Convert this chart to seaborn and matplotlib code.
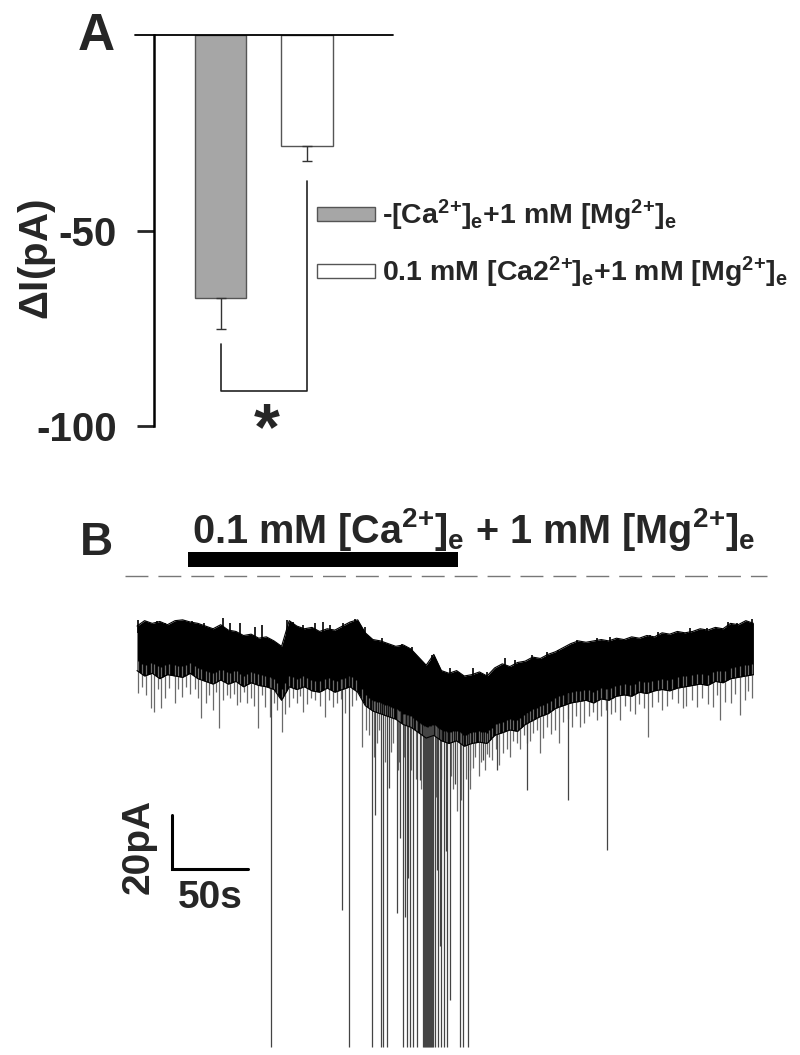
import numpy as np
import matplotlib
matplotlib.use("Agg")
import matplotlib.pyplot as plt
import seaborn as sns
from matplotlib.patches import Rectangle

sns.set_style("white")
plt.rcParams['font.family'] = ['Liberation Sans', 'DejaVu Sans']
plt.rcParams['font.weight'] = 'bold'
plt.rcParams['mathtext.fontset'] = 'custom'
plt.rcParams['mathtext.bf'] = 'Liberation Sans:bold'
plt.rcParams['mathtext.rm'] = 'Liberation Sans:bold'
plt.rcParams['mathtext.default'] = 'bf'

# panel A data
conditions = [r'-[Ca$^{2\!+}\!$]$_{e}$+1 mM [Mg$^{2\!+}\!$]$_{e}$',
              r'0.1 mM [Ca2$^{2\!+}\!$]$_{e}$+1 mM [Mg$^{2\!+}\!$]$_{e}$']
delta_I = [-67.3, -28.4]
sem = [7.9, 3.8]
bar_colors = ['#a6a6a6', 'white']
bracket_y = [-79.0, -91.0, -91.0, -37.3]

# panel B data, time in s, current in pA (relative)
env_t = np.arange(0, 410, 5)
env_up = [-1.5, 0.5, -0.5, 0.2, -1.0, 0.5, 0.8, 0.0, -0.5, -1.5,
          -2.5, -1.0, -3.0, -3.5, -5.0, -4.5, -6.0, -5.5, -7.0, -9.0,
          0.5, -1.5, -2.5, -2.0, -3.5, -2.5, -3.0, -1.5, 0.0, 0.8,
          -4.0, -6.5, -7.0, -8.0, -9.0, -8.5, -10.0, -13.0, -16.0, -12.0,
          -18.0, -19.0, -18.0, -20.0, -19.5, -18.5, -20.0, -17.0, -15.5, -16.5,
          -15.0, -14.5, -13.0, -13.5, -12.0, -11.0, -9.5, -8.0, -7.0, -7.5,
          -7.0, -6.5, -7.0, -6.0, -6.5, -5.5, -6.0, -5.0, -5.5, -4.0,
          -4.5, -3.5, -4.0, -3.5, -2.5, -3.0, -2.0, -2.5, -0.5, -1.0,
          0.5, -0.5]
env_lo = [-18.0, -20.0, -19.0, -21.0, -19.5, -20.0, -20.5, -19.0, -21.0, -22.0,
          -23.0, -21.5, -23.0, -22.0, -24.0, -22.5, -23.5, -24.0, -25.0, -29.0,
          -24.0, -25.0, -24.0, -25.5, -26.0, -24.5, -26.0, -25.0, -24.0, -26.0,
          -31.0, -33.0, -34.0, -35.0, -36.0, -38.0, -39.0, -41.0, -43.0, -42.0,
          -44.0, -45.0, -44.0, -46.0, -45.0, -44.5, -45.0, -42.0, -41.0, -40.0,
          -40.5, -38.0, -36.5, -35.0, -34.0, -32.0, -31.0, -30.0, -29.5, -29.0,
          -30.0, -28.5, -29.0, -27.5, -27.0, -27.5, -26.0, -26.5, -25.5, -25.0,
          -25.5, -24.5, -24.0, -23.5, -23.0, -23.5, -22.0, -22.5, -21.0, -20.5,
          -20.0, -19.5]

# small upward peaks on top of the band
peak_t = [0.9, 5.3, 12.9, 18.4, 30.4, 35.9, 44.0, 56.3, 61.1, 67.7,
          77.5, 81.9, 98.4, 102.7, 109.3, 117.0, 122.4, 126.8, 135.5, 143.2,
          149.8, 160.8, 173.9, 180.5, 193.6, 198.0, 205.6, 221.0, 229.8, 241.8,
          248.4, 259.3, 269.2, 276.8, 288.9, 302.0, 310.8, 337.0, 342.5, 363.3,
          374.3, 388.5, 394.0, 403.9]
peak_I = [0.7, 0.1, 0.5, -0.5, 0.1, 0.5, -0.5, 1.4, -0.5, -0.2,
          -1.7, -1.1, 0.7, 0.1, -1.1, -0.2, 0.1, -1.1, -0.5, 1.0,
          -1.7, -6.0, -8.1, -9.1, -12.2, -15.9, -17.2, -17.2, -18.4, -13.5,
          -14.1, -12.2, -11.0, -10.4, -6.7, -6.0, -5.7, -4.8, -3.6, -2.3,
          -2.3, 0.1, -0.5, 1.0]

# short downward events under the band
tail_t = [0.7, 3.5, 6.0, 9.2, 11.2, 13.5, 15.8, 18.5, 21.0, 25.0,
          27.0, 29.6, 32.5, 35.0, 38.0, 40.0, 42.0, 45.3, 47.5, 49.9,
          52.0, 53.9, 56.5, 59.0, 61.1, 63.5, 65.7, 68.0, 70.5, 72.3,
          75.0, 77.0, 79.5, 82.0, 84.1, 87.4, 90.0, 92.0, 95.3, 97.5,
          99.9, 102.5, 105.0, 107.0, 109.1, 112.0, 114.5, 117.0, 120.0, 123.5,
          126.0, 128.8, 131.5, 134.0, 136.7, 141.0, 144.0, 147.8, 150.5, 152.5,
          155.5, 157.9, 159.0, 163.0, 166.9, 168.5, 171.5, 172.1, 175.5, 180.0,
          183.0, 186.5, 189.9, 196.3, 199.7, 206.0, 207.6, 210.5, 213.0, 216.0,
          218.5, 219.1, 221.0, 222.3, 224.5, 226.0, 228.5, 230.0, 231.5, 233.2,
          236.0, 238.0, 240.5, 243.0, 245.0, 247.0, 249.5, 251.8, 254.0, 256.0,
          258.0, 260.5, 262.5, 265.0, 267.0, 269.5, 272.0, 274.6, 277.3, 280.0,
          283.5, 286.0, 288.5, 291.0, 293.5, 296.8, 299.5, 302.2, 305.0, 308.0,
          311.4, 314.0, 317.3, 320.5, 324.2, 327.0, 330.0, 333.0, 335.7, 338.5,
          342.0, 345.0, 348.0, 351.5, 355.5, 358.5, 361.0, 364.5, 368.0, 371.5,
          375.0, 378.4, 381.0, 383.0, 386.5, 390.0, 393.0, 396.2, 399.5, 401.5,
          404.0]
tail_I = [-26.3, -24.0, -27.0, -31.9, -33.3, -25.0, -31.9, -28.0, -24.5, -30.0,
          -25.0, -27.8, -24.0, -26.5, -25.0, -28.0, -35.6, -30.0, -27.0, -32.6,
          -26.0, -39.3, -29.0, -27.0, -28.1, -26.5, -30.7, -29.5, -26.0, -30.0,
          -28.0, -31.0, -39.3, -27.0, -31.5, -35.2, -30.0, -32.6, -40.7, -34.0,
          -31.5, -28.0, -30.0, -27.5, -33.3, -30.5, -28.0, -28.9, -31.0, -35.2,
          -29.0, -31.5, -30.0, -28.5, -33.7, -31.0, -29.0, -46.3, -40.0, -42.0,
          -50.0, -45.0, -40.0, -52.0, -48.0, -45.0, -55.0, -52.0, -50.0, -55.0,
          -58.0, -62.0, -60.0, -65.0, -58.0, -57.0, -62.0, -70.0, -66.0, -58.0,
          -62.0, -55.0, -54.0, -50.0, -57.0, -52.0, -55.0, -49.0, -50.0, -51.0,
          -47.0, -53.0, -48.5, -47.0, -50.0, -44.0, -45.0, -47.0, -42.0, -45.0,
          -44.0, -41.0, -40.0, -48.5, -43.0, -39.0, -41.5, -40.0, -44.8, -37.0,
          -36.0, -39.0, -35.0, -38.9, -37.5, -35.0, -33.5, -36.3, -35.0, -32.5,
          -34.0, -33.5, -36.3, -31.0, -33.0, -34.0, -30.5, -32.0, -42.6, -31.5,
          -29.5, -32.6, -31.0, -28.5, -30.0, -32.0, -31.0, -29.0, -31.5, -28.0,
          -30.5, -31.5, -27.0, -36.3, -29.5, -30.0, -26.5, -34.4, -29.0, -25.5,
          -28.1]

# large events reaching far below the band
spike_t = [88.0, 134.7, 139.3, 154.4, 156.4, 160.3, 161.6, 164.3, 165.6, 170.8,
           172.5, 174.8, 176.1, 177.4, 178.0, 179.4, 181.3, 184.0, 185.9, 187.9,
           188.6, 189.2, 189.9, 190.6, 191.2, 191.9, 192.5, 193.2, 193.8, 194.5,
           195.8, 196.8, 197.8, 198.8, 199.7, 201.7, 202.7, 203.7, 205.6, 208.9,
           212.2, 214.2, 217.5, 227.3, 236.5, 256.2, 283.2, 308.8]
spike_I = [-157.4, -106.7, -157.4, -157.4, -71.5, -157.4, -157.4, -157.4, -61.5, -107.8,
           -80.0, -157.4, -109.3, -157.4, -95.0, -157.4, -157.4, -157.4, -58.5, -157.4,
           -157.4, -157.4, -157.4, -157.4, -157.4, -157.4, -157.4, -157.4, -157.4, -157.4,
           -157.4, -92.0, -157.4, -120.0, -157.4, -157.4, -85.0, -157.4, -140.0, -60.0,
           -157.4, -157.4, -157.4, -51.0, -54.8, -62.2, -65.9, -84.4]

drug_on, drug_off = 33.5, 211.0

fig = plt.figure(figsize=(8, 10.55), dpi=100)

# ---- panel A ----
axA = fig.add_axes([154 / 800, 1 - 426 / 1055, (393 - 154) / 800, (426 - 35) / 1055])
sns.barplot(x=conditions, y=delta_I, hue=conditions, palette=bar_colors, width=0.6,
            edgecolor='#555555', linewidth=1, errorbar=None, legend=True, ax=axA)
axA.errorbar([0, 1], delta_I, yerr=[sem, [0, 0]], fmt='none', ecolor='#333333',
             elinewidth=1, capsize=3.5, capthick=1)
axA.set_xlim(-0.769, 1.994)
axA.set_ylim(-100, 0)
axA.set_yticks([-50, -100])
axA.set_yticklabels(['-50', '-100'], fontsize=29, fontweight='bold')
axA.tick_params(axis='y', direction='out', length=12, width=2, pad=15, left=True)
axA.set_xticks([])
for s in ['top', 'right', 'bottom']:
    axA.spines[s].set_visible(False)
axA.spines['left'].set_linewidth(1.8)
axA.spines['left'].set_color('black')
axA.plot([-0.08, 1], [0, 0], transform=axA.get_yaxis_transform(), color='black',
         lw=1.3, clip_on=False)
axA.plot([0, 0, 1, 1], bracket_y, color='#222222', lw=1.2, clip_on=False)
axA.text(0.53, -101.5, '*', fontsize=48, fontweight='bold', ha='center', va='center')
axA.set_ylabel(r'$\Delta$I(pA)', fontsize=29, fontweight='bold')
axA.yaxis.set_label_coords(-0.40, 0.425)
axA.set_xlabel('')
sns.move_legend(axA, loc='upper left', bbox_to_anchor=(317 / 800, 1 - 198 / 1055),
                bbox_transform=fig.transFigure, frameon=False, fontsize=20.5,
                handlelength=2.05, handleheight=0.38, handletextpad=0.25,
                labelspacing=0.75, borderpad=0, borderaxespad=0, title=None)

fig.text(78 / 800, 1 - 50 / 1055, 'A', fontsize=37, fontweight='bold', ha='left', va='baseline')

# ---- panel B ----
axB = fig.add_axes([0, 0, 1, 555 / 1055])
axB.set_xlim(-90.0, 435.6)
axB.set_ylim(-160.4, 45.2)
axB.axis('off')

spike_top = np.interp(spike_t, env_t, env_lo) + 4
tail_top = np.interp(tail_t, env_t, env_lo) + 4
peak_base = np.interp(peak_t, env_t, env_up) - 3
axB.vlines(tail_t, tail_top, tail_I, color='#6a6a6a', lw=0.9)
axB.vlines(spike_t, spike_top, spike_I, color='#444444', lw=0.9)
axB.vlines(peak_t, peak_base, peak_I, color='black', lw=1.2)
axB.fill_between(env_t, env_lo, env_up, color='black', lw=0)
sns.lineplot(x=env_t, y=env_up, color='black', lw=0.8, ax=axB)
sns.lineplot(x=env_t, y=env_lo, color='black', lw=0.8, ax=axB)

axB.plot([-7.9, 414], [17, 17], color='#777777', lw=1, ls=(0, (16.5, 7.2)))
axB.add_patch(Rectangle((drug_on, 20.4), drug_off - drug_on, 5.6, color='black', lw=0))
axB.text(36.1, 29.3, r'0.1 mM [Ca$^{2\!+}\!$]$_{e}$ + 1 mM [Mg$^{2\!+}\!$]$_{e}$', fontsize=28.5,
         fontweight='bold', ha='left', va='baseline')
fig.text(80 / 800, 1 - 555 / 1055, 'B', fontsize=33, fontweight='bold', ha='left', va='baseline')

# scale bar 50 s / 20 pA
axB.plot([23, 23, 73], [-71.5, -91.5, -91.5], color='black', lw=2.2, solid_joinstyle='miter')
axB.text(1.3, -83.3, '20pA', rotation=90, fontsize=28, fontweight='bold', ha='center', va='center')
axB.text(48, -102.2, '50s', fontsize=28, fontweight='bold', ha='center', va='center')

fig.savefig('out.png', dpi=100)
